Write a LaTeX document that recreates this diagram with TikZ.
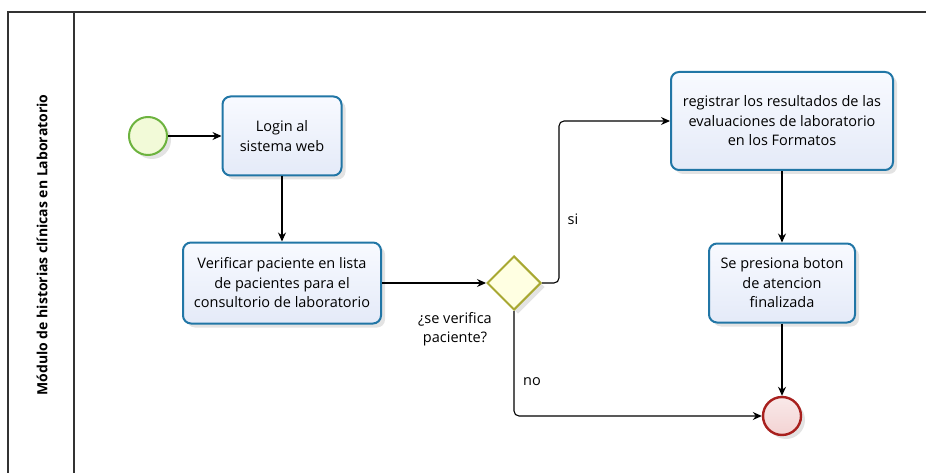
\documentclass[tikz,border=0pt]{standalone}
\usepackage{fontspec}
\setmainfont{Open Sans}
\usetikzlibrary{arrows.meta,shapes.geometric,shadows}

\definecolor{taskline}{HTML}{2176A6}
\definecolor{tasktop}{HTML}{F8FAFF}
\definecolor{taskbot}{HTML}{E4EAF8}
\definecolor{startline}{HTML}{6DB33F}
\definecolor{startfill}{HTML}{F2FAD8}
\definecolor{endline}{HTML}{A8201E}
\definecolor{endfill}{HTML}{F3D3D3}
\definecolor{gateline}{HTML}{A8A832}
\definecolor{gatefill}{HTML}{FFFFE2}
\definecolor{laneline}{HTML}{333333}

\tikzset{
  shade/.style={drop shadow={opacity=0.22, shadow xshift=4pt, shadow yshift=-4pt}},
  task/.style={draw=taskline, line width=2pt, rounded corners=8pt,
    top color=tasktop, bottom color=taskbot, align=center, inner sep=2pt,
    font=\fontsize{14.5}{19.5}\selectfont, shade},
  startev/.style={circle, draw=startline, line width=2pt, fill=startfill,
    minimum size=38pt, inner sep=0pt, shade},
  endev/.style={circle, draw=endline, line width=2.4pt, top color=endfill!50,
    bottom color=endfill, minimum size=38pt, inner sep=0pt, shade},
  gate/.style={diamond, draw=gateline, line width=2pt, fill=gatefill,
    minimum width=54pt, minimum height=54pt, inner sep=0pt, shade},
  lbl/.style={align=center, font=\fontsize{14.5}{19.5}\selectfont},
  flow/.style={line width=1.1pt, -{Stealth[length=9pt,width=8pt]}}
}

\begin{document}
\begin{tikzpicture}[x=1pt,y=-1pt]
  \useasboundingbox (0,0) rectangle (926,473);
  % pool and lane
  \draw[laneline, line width=1.4pt] (8,473) -- (8,12) -- (926,12);
  \draw[laneline, line width=1.4pt] (74,12) -- (74,473);
  \node[rotate=90, font=\fontsize{14}{16}\selectfont\bfseries] (lane) at (42,245)
    {Módulo de historias clínicas en Laboratorio};

  \draw
    (148,136) node[startev] (start){}
    (282,136) node[task, minimum width=119pt, minimum height=79pt] (login){Login al\\sistema web}
    (282,283) node[task, minimum width=198pt, minimum height=81pt] (verif){Verificar paciente en lista\\de pacientes para el\\consultorio de laboratorio}
    (514,283) node[gate] (gw){}
    (782,121) node[task, minimum width=222pt, minimum height=98pt] (reg){registrar los resultados de las\\evaluaciones de laboratorio\\en los Formatos}
    (782,283) node[task, minimum width=146pt, minimum height=79pt] (fin){Se presiona boton\\de atencion\\finalizada}
    (782,416) node[endev] (stop){};

  \node[lbl] (qgw) at (455,329) {¿se verifica\\paciente?};
  \node[lbl] (si) at (573,219) {si};
  \node[lbl] (no) at (532,382) {no};

  \begin{scope}[flow]
    \draw (start) to (login);
    \draw (login) to (verif);
    \draw (verif) to (gw);
    \draw[rounded corners=5pt] (gw.east) -- ++(17,0) |- (reg.west);
    \draw[rounded corners=5pt] (gw.south) |- (stop.west);
    \draw (reg) to (fin);
    \draw (fin) to (stop);
  \end{scope}
\end{tikzpicture}
\end{document}
